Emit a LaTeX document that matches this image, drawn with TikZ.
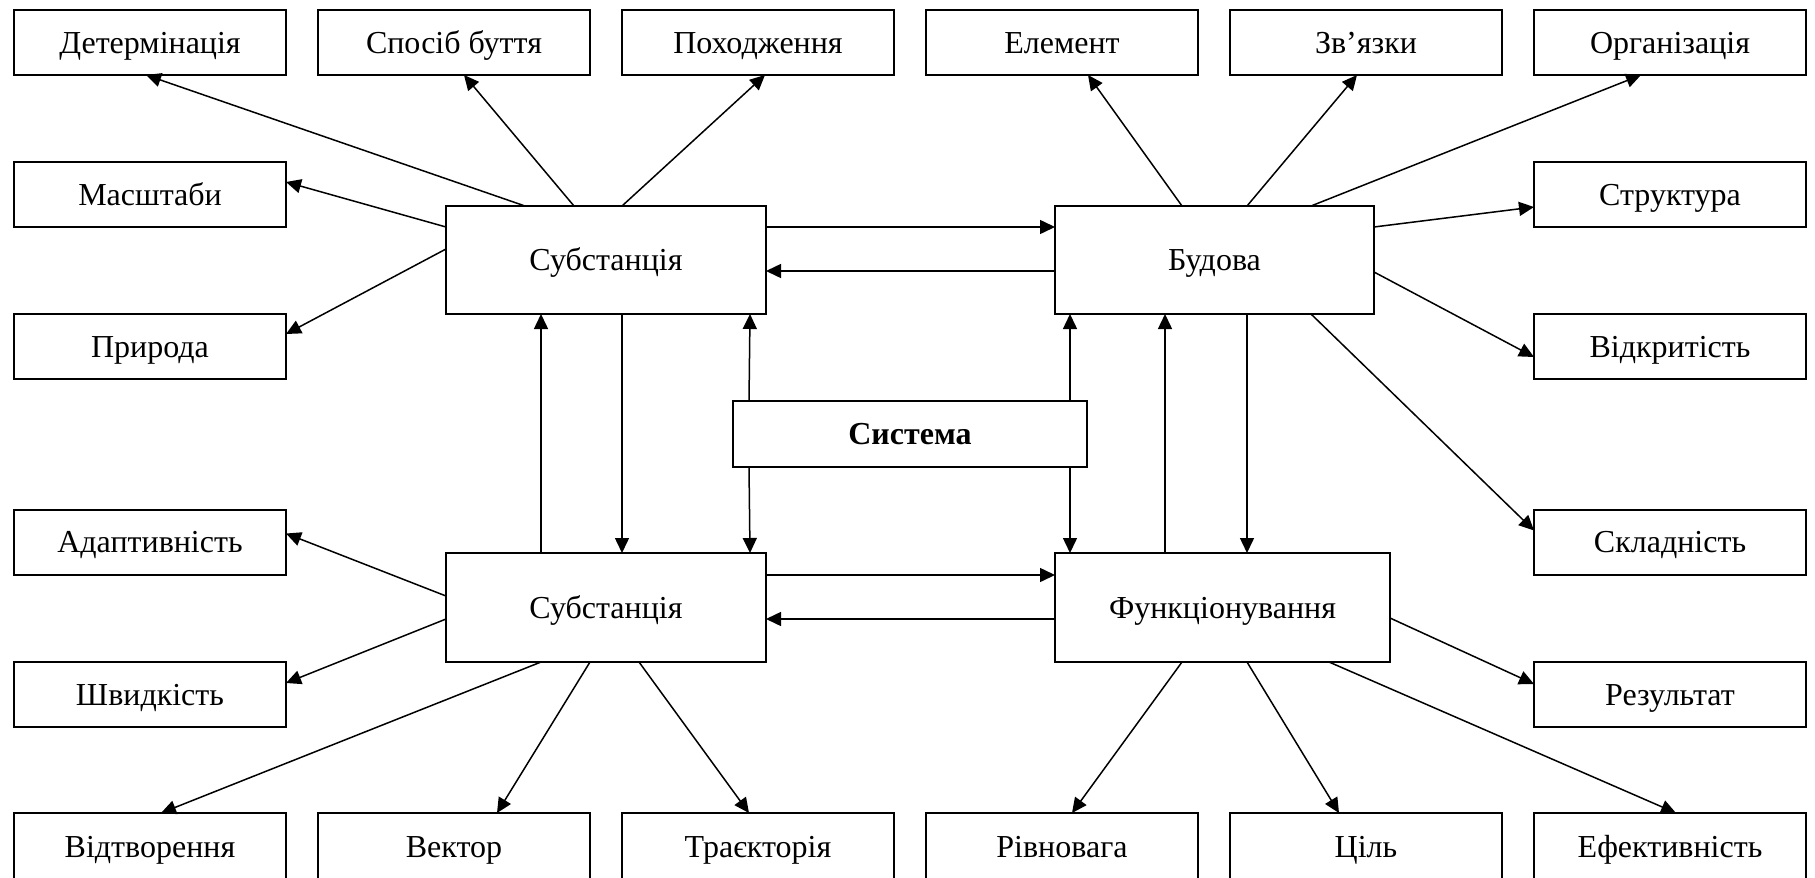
\documentclass[tikz,border=0pt]{standalone}
\usepackage{fontspec}
\setmainfont{Liberation Serif}
\usetikzlibrary{arrows.meta,calc}
\begin{document}
\begin{tikzpicture}[x=0.5pt,y=-0.5pt,
  box/.style={draw,line width=1pt,inner sep=0pt,outer sep=0pt,text height=12pt,text depth=1.4pt,font=\fontsize{16}{19}\selectfont},
  sbox/.style={box,minimum width=136pt,minimum height=32.5pt},
  bbox/.style={box,minimum width=136pt,minimum height=33.5pt},
  arr/.style={line width=0.75pt,-{Triangle[length=7.5pt,width=7pt]}},
  ln/.style={line width=0.75pt}]
\clip (0,0) rectangle (1815,878);
% top row
\node[sbox] (det)  at (150,42.5)  {Детермінація};
\node[sbox] (spos) at (454,42.5)  {Спосіб буття};
\node[sbox] (pokh) at (758,42.5)  {Походження};
\node[sbox] (elem) at (1062,42.5) {Елемент};
\node[sbox] (zv)   at (1366,42.5) {Зв’язки};
\node[sbox] (org)  at (1670,42.5) {Організація};
% side boxes
\node[sbox] (masht)  at (150,194.5)  {Масштаби};
\node[sbox] (strukt) at (1670,194.5) {Структура};
\node[sbox] (pryr)   at (150,346.5)  {Природа};
\node[sbox] (vidkr)  at (1670,346.5) {Відкритість};
\node[sbox] (adapt)  at (150,542)    {Адаптивність};
\node[sbox] (skladn) at (1670,542)   {Складність};
\node[sbox] (shvyd)  at (150,694.5)  {Швидкість};
\node[sbox] (rezult) at (1670,694.5) {Результат};
% bottom row
\node[bbox] (vidtv)  at (150,846.5)  {Відтворення};
\node[bbox] (vektor) at (454,846.5)  {Вектор};
\node[bbox] (traek)  at (758,846.5)  {Траєкторія};
\node[bbox] (rivn)   at (1062,846.5) {Рівновага};
\node[bbox] (cil)    at (1366,846.5) {Ціль};
\node[bbox] (efekt)  at (1670,846.5) {Ефективність};
% central boxes
\node[box,minimum width=160pt,minimum height=54pt]     (s1)   at (606,260)      {Субстанція};
\node[box,minimum width=159.5pt,minimum height=54pt]   (bud)  at (1214.5,260)   {Будова};
\node[box,minimum width=160pt,minimum height=54.5pt]   (s2)   at (606,607.5)    {Субстанція};
\node[box,minimum width=167.5pt,minimum height=54.5pt] (funk) at (1222.5,607.5) {Функціонування};
\node[box,minimum width=177pt,minimum height=33pt,font=\fontsize{16}{19}\selectfont\bfseries] (sys) at (910,434) {Система};
% top Субстанція
\draw[arr] ($(s1.north west)+(79,0)$)  -- ($(det.south west)+(132,0)$);
\draw[arr] ($(s1.north west)+(128,0)$) -- ($(spos.south west)+(146,0)$);
\draw[arr] ($(s1.north west)+(176,0)$) -- ($(pokh.south west)+(143,0)$);
\draw[arr] ($(s1.north west)+(0,21)$)  -- ($(masht.north east)+(0,20)$);
\draw[arr] ($(s1.north west)+(0,43)$)  -- ($(pryr.north east)+(0,20)$);
\draw[arr] ($(s1.north east)+(0,21)$)  -- ($(bud.north west)+(0,21)$);
\draw[arr] ($(bud.north west)+(0,65)$) -- ($(s1.north east)+(0,65)$);
% verticals
\draw[arr] ($(s2.north west)+(95,0)$)  -- ($(s1.south west)+(95,0)$);
\draw[arr] ($(s1.south west)+(176,0)$) -- ($(s2.north west)+(176,0)$);
\draw[arr] ($(sys.north west)+(16,0)$) -- ($(s1.south west)+(304,0)$);
\draw[arr] ($(sys.south west)+(16,0)$) -- ($(s2.north west)+(304,0)$);
\draw[arr] ($(sys.north east)+(-17,0)$) -- ($(bud.south west)+(15,0)$);
\draw[arr] ($(sys.south east)+(-17,0)$) -- ($(funk.north west)+(15,0)$);
\draw[arr] ($(funk.north west)+(110,0)$) -- ($(bud.south west)+(110,0)$);
\draw[arr] ($(bud.south west)+(192,0)$) -- ($(funk.north west)+(192,0)$);
% Будова
\draw[arr] ($(bud.north west)+(127,0)$) -- ($(elem.south west)+(162,0)$);
\draw[arr] ($(bud.north west)+(192,0)$) -- ($(zv.south west)+(127,0)$);
\draw[arr] ($(bud.north west)+(256,0)$) -- ($(org.south west)+(107,0)$);
\draw[arr] ($(bud.north east)+(0,21)$)  -- ($(strukt.north west)+(0,45)$);
\draw[arr] ($(bud.north east)+(0,66)$)  -- ($(vidkr.north west)+(0,43)$);
\draw[arr] ($(bud.south west)+(256,0)$) -- ($(skladn.north west)+(0,21)$);
% bottom Субстанція
\draw[arr] ($(s2.north west)+(0,43)$)  -- ($(adapt.north east)+(0,24)$);
\draw[arr] ($(s2.north west)+(0,66)$)  -- ($(shvyd.north east)+(0,21)$);
\draw[arr] ($(s2.south west)+(95,0)$)  -- ($(vidtv.north west)+(147,0)$);
\draw[arr] ($(s2.south west)+(144,0)$) -- ($(vektor.north west)+(179,0)$);
\draw[arr] ($(s2.south west)+(193,0)$) -- ($(traek.north west)+(127,0)$);
\draw[arr] ($(s2.north east)+(0,22)$)  -- ($(funk.north west)+(0,22)$);
\draw[arr] ($(funk.north west)+(0,66)$) -- ($(s2.north east)+(0,66)$);
% Функціонування
\draw[arr] ($(funk.north east)+(0,65)$)  -- ($(rezult.north west)+(0,22)$);
\draw[arr] ($(funk.south west)+(127,0)$) -- ($(rivn.north west)+(146,0)$);
\draw[arr] ($(funk.south west)+(192,0)$) -- ($(cil.north west)+(109,0)$);
\draw[arr] ($(funk.south west)+(274,0)$) -- ($(efekt.north west)+(142,0)$);
\end{tikzpicture}
\end{document}
